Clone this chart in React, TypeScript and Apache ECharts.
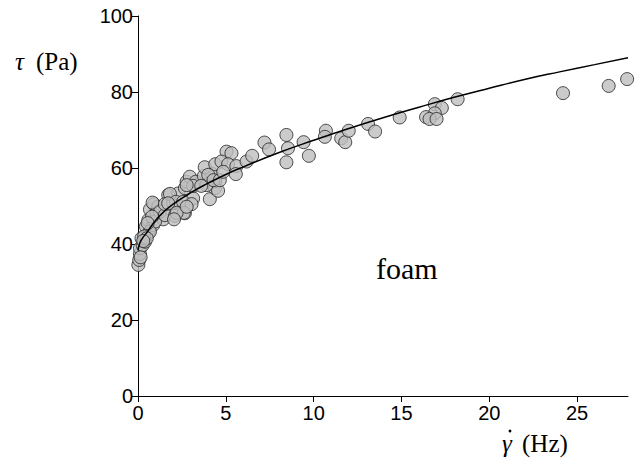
import React, { useEffect, useRef } from "react";
import * as echarts from "echarts";

const shearRate: number[] = [
  0.02, 0.07, 0.11, 0.11, 0.27, 0.4, 0.2, 0.59, 0.68, 0.45, 0.59, 0.87, 0.68, 0.91, 1.15, 1.44, 1.06, 0.83, 0.97, 0.68, 1.25, 1.53, 0.35, 0.5, 0.3, 0.15, 0.8, 0.55,
  1.72, 1.53, 2.0, 2.29, 2.67, 2.67, 2.1, 3.14, 2.77, 4.09, 4.38, 1.82, 2.16, 2.57, 3.05, 2.61, 1.72, 2.2, 2.05, 2.77, 2.95, 3.3, 3.75, 4.2, 4.4, 3.9, 4.56, 3.14, 2.77,
  5.04, 5.32, 3.8, 4.4, 4.75, 5.13, 5.6, 6.18, 6.5, 7.2, 7.46, 4.0, 4.3, 4.66, 5.57, 3.6, 4.85,
  8.45, 8.54, 8.45, 9.43, 9.73, 10.7, 10.64, 11.57, 11.8, 12.0, 13.1, 13.5, 14.9, 16.9, 17.3, 16.9, 16.4, 16.6, 17.0, 18.2, 24.2, 26.8, 27.85,
];
const stress: number[] = [
  34.5, 35.8, 37.4, 38.9, 39.7, 40.6, 41.5, 42.8, 44.1, 44.6, 46.3, 45, 49.1, 50.5, 49.8, 46.5, 48.1, 50.9, 45.9, 43.2, 48.5, 47.6, 42, 41.5, 40.8, 36.5, 47.2, 45.5,
  52.9, 50.5, 50.7, 53.3, 54.7, 48.1, 47.4, 52, 56.4, 51.8, 54.7, 53.2, 51.1, 51.1, 50.5, 48.2, 50.7, 48.2, 46.5, 49.8, 57.7, 56.4, 57.9, 58.5, 56.5, 55.5, 54, 55.3, 55.5,
  64.3, 63.9, 60.2, 61, 61.7, 61, 60.5, 61.7, 63.2, 66.7, 64.9, 58.2, 56.8, 56.8, 58.4, 55.3, 59,
  68.7, 65.2, 61.5, 66.8, 63.2, 69.8, 68.2, 67.8, 66.8, 69.8, 71.6, 69.6, 73.3, 76.8, 75.8, 74.4, 73.4, 72.9, 72.9, 78.1, 79.7, 81.6, 83.4,
];

const fitRate: number[] = [0, 0.1, 0.25, 0.5, 1, 1.5, 2, 3, 4, 5, 6, 8, 10, 12, 14, 16, 18, 20, 22, 24, 26, 27.9];
const fitStress: number[] = [38.3, 40.2, 41.5, 43, 46.2, 48.6, 50.5, 53.5, 56, 58.3, 60.3, 64, 67.3, 70.4, 73.3, 76, 78.6, 81, 83.3, 85.3, 87.2, 89];

const xTicks = [0, 5, 10, 15, 20, 25];
const yTicks = [0, 20, 40, 60, 80, 100];

const SERIF = "Liberation Serif";

export default function App() {
  const ref = useRef<HTMLDivElement>(null);
  useEffect(() => {
    if (!ref.current) return;
    const chart = echarts.init(ref.current, null, { renderer: "svg" });
    const axisLabelStyle = { color: "#000", fontFamily: "Liberation Sans", fontSize: 20 };
    const txt = (text: string, x: number, y: number, size: number, italic = false) => ({
      type: "text",
      x,
      y,
      style: {
        text,
        fontFamily: SERIF,
        fontStyle: italic ? "italic" : "normal",
        fontSize: size,
        fill: "#000",
        textBaseline: "middle",
        textVerticalAlign: "middle",
      },
    });
    chart.setOption({
      animation: false,
      grid: { left: 138, right: 7, top: 16, bottom: 63 },
      xAxis: {
        type: "value",
        min: 0,
        max: 27.9,
        interval: 5,
        axisLine: { show: true, onZero: false, lineStyle: { color: "#000", width: 1 } },
        axisTick: { show: true, inside: false, length: 6, lineStyle: { color: "#000" } },
        axisLabel: {
          ...axisLabelStyle,
          margin: 7,
          showMaxLabel: false,
          formatter: (v: number) => (xTicks.includes(v) ? String(v) : ""),
        },
        splitLine: { show: false },
      },
      yAxis: {
        type: "value",
        min: 0,
        max: 100,
        interval: 20,
        axisLine: { show: true, onZero: false, lineStyle: { color: "#000", width: 1 } },
        axisTick: { show: true, inside: false, length: 6, lineStyle: { color: "#000" } },
        axisLabel: {
          ...axisLabelStyle,
          margin: 5,
          formatter: (v: number) => (yTicks.includes(v) ? String(v) : ""),
        },
        splitLine: { show: false },
      },
      series: [
        {
          type: "scatter",
          data: shearRate.map((g, i) => [g, stress[i]]),
          symbol: "circle",
          symbolSize: 13,
          itemStyle: { color: "#bebebe", borderColor: "#222", borderWidth: 1 },
          z: 2,
        },
        {
          type: "line",
          data: fitRate.map((g, i) => [g, fitStress[i]]),
          showSymbol: false,
          smooth: true,
          lineStyle: { color: "#000", width: 1.5 },
          z: 3,
        },
      ],
      graphic: [
        txt("τ", 15, 61, 25, true),
        txt("(Pa)", 36, 61, 25),
        txt("γ", 502, 443, 25, true),
        { type: "circle", shape: { cx: 510, cy: 431, r: 1.4 }, style: { fill: "#000" } },
        txt("(Hz)", 522, 443, 25),
        txt("foam", 376, 268, 30),
      ],
    });
    return () => chart.dispose();
  }, []);
  return <div ref={ref} style={{ width: 635, height: 459, position: "absolute", left: 0, top: 0 }} />;
}
